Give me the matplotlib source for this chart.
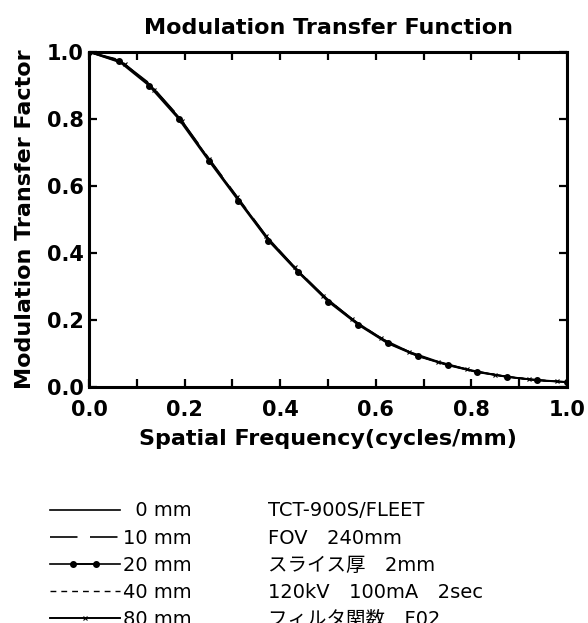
import matplotlib
matplotlib.use("Agg")
import matplotlib.pyplot as plt
from matplotlib.ticker import MultipleLocator
from matplotlib.legend_handler import HandlerLine2D

# Frequências (ciclos/mm) e MTF
freq = [0.0, 0.0625, 0.125, 0.1875, 0.25, 0.3125, 0.375, 0.4375, 0.5,
        0.5625, 0.625, 0.6875, 0.75, 0.8125, 0.875, 0.9375, 1.0]
freq_80 = [0.0, 0.075, 0.137, 0.194, 0.25, 0.31, 0.37, 0.43, 0.49,
           0.55, 0.61, 0.67, 0.73, 0.79, 0.85, 0.92, 0.98]

mtf_0 = [1.0, 0.975, 0.905, 0.805, 0.680, 0.560, 0.440, 0.345, 0.258,
         0.188, 0.132, 0.093, 0.066, 0.045, 0.030, 0.020, 0.015]
mtf_10 = [1.0, 0.977, 0.908, 0.808, 0.684, 0.563, 0.443, 0.347, 0.260,
          0.190, 0.134, 0.094, 0.067, 0.046, 0.031, 0.021, 0.015]
mtf_20 = [1.0, 0.972, 0.900, 0.800, 0.676, 0.556, 0.437, 0.342, 0.255,
          0.186, 0.130, 0.092, 0.065, 0.044, 0.030, 0.020, 0.014]
mtf_40 = [1.0, 0.976, 0.906, 0.806, 0.682, 0.561, 0.441, 0.346, 0.259,
          0.189, 0.133, 0.093, 0.066, 0.045, 0.031, 0.020, 0.015]
mtf_80 = [1.0, 0.964, 0.888, 0.794, 0.682, 0.566, 0.452, 0.357, 0.273,
          0.203, 0.146, 0.105, 0.076, 0.053, 0.036, 0.023, 0.017]

rotulos = ['0 mm', '10 mm', '20 mm', '40 mm', '80 mm']
info = ['TCT-900S/FLEET', 'FOV\u2003240mm', 'スライス厚\u20032mm',
        '120kV\u2003100mA\u20032sec', 'フィルタ関数\u3000F02']

fig = plt.figure(figsize=(5.88, 6.23), dpi=100)
ax = fig.add_axes([89/588, 1-387/623, 478/588, 335/623])

l0, = ax.plot(freq, mtf_0, color='black', lw=1.2, ls='-')
l10, = ax.plot(freq, mtf_10, color='black', lw=1.2, ls=(0, (16.5, 7.5)))
l20, = ax.plot(freq, mtf_20, color='black', lw=1.2, ls='-', marker='o', ms=4)
l40, = ax.plot(freq, mtf_40, color='black', lw=1.0, ls=(0, (4.2, 3.6)))
l80, = ax.plot(freq_80, mtf_80, color='black', lw=1.2, ls='-', marker='x', ms=3.5, mew=0.8)

ax.set_xlim(0, 1.0)
ax.set_ylim(0, 1.0)
ax.xaxis.set_major_locator(MultipleLocator(0.2))
ax.xaxis.set_minor_locator(MultipleLocator(0.1))
ax.yaxis.set_major_locator(MultipleLocator(0.2))
ax.tick_params(which='both', direction='in', top=True, right=True,
               length=6, width=1.6)
ax.tick_params(axis='x', labelsize=15, pad=9)
ax.tick_params(axis='y', labelsize=15, pad=4)
for lab in ax.get_xticklabels() + ax.get_yticklabels():
    lab.set_fontweight('bold')
ax.xaxis.set_major_formatter(plt.FormatStrFormatter('%.1f'))
ax.yaxis.set_major_formatter(plt.FormatStrFormatter('%.1f'))
for s in ax.spines.values():
    s.set_linewidth(2.2)

ax.set_title('Modulation Transfer Function', fontsize=16, fontweight='bold', pad=13)
ax.set_xlabel('Spatial Frequency(cycles/mm)', fontsize=16, fontweight='bold', labelpad=7)
ax.set_ylabel('Modulation Transfer Factor', fontsize=16, fontweight='bold', labelpad=8)

# Legenda em duas colunas: amostras de linha + condições de aquisição
vazio = [plt.Line2D([], [], color='none') for _ in info]
rot_leg = ['\u2007' + rotulos[0]] + rotulos[1:]
fonte = {'family': ['DejaVu Sans', 'Noto Sans CJK JP'], 'size': 14}
leg = fig.legend([l0, l10, (l0, l20), l40, (l0, l80)] + vazio, rot_leg + info,
                 loc='upper left', bbox_to_anchor=(32/588, 1-484/623),
                 ncol=2, frameon=False, prop=fonte, handlelength=3.6,
                 handletextpad=0.2, columnspacing=0.1, labelspacing=0.42,
                 handler_map={l20: HandlerLine2D(numpoints=2, marker_pad=1.2)})

plt.savefig('out.png', dpi=100)
